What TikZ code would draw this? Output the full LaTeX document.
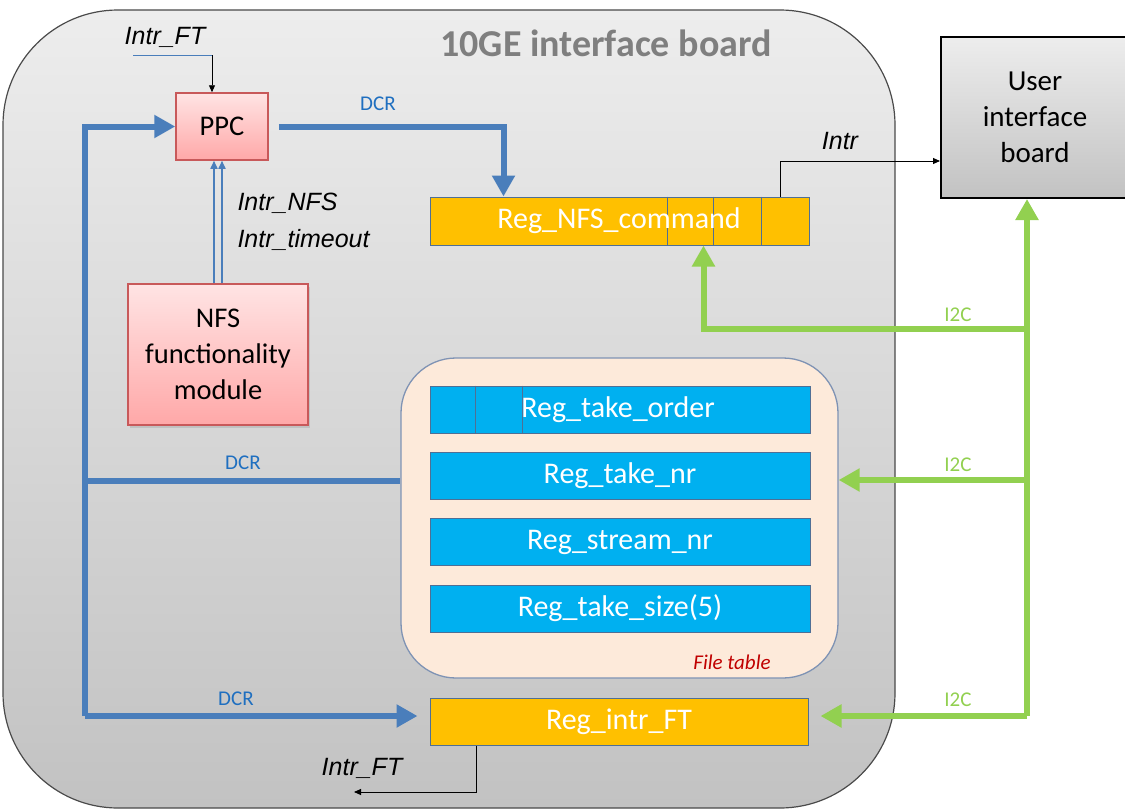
\documentclass[tikz,border=0pt]{standalone}
\usepackage{fontspec}
\setmainfont{Carlito}
\newfontfamily\arialfont{Liberation Sans}
\usetikzlibrary{arrows.meta,calc,shadows}

\definecolor{boardtop}{HTML}{EDEDED}
\definecolor{boardbot}{HTML}{C2C2C2}
\definecolor{boardedge}{HTML}{4A4A4A}
\definecolor{titlegray}{HTML}{7F7F7F}
\definecolor{busblue}{HTML}{4A7EBB}
\definecolor{dcrtext}{HTML}{1F6FC0}
\definecolor{busgreen}{HTML}{92D050}
\definecolor{regorange}{HTML}{FFC000}
\definecolor{regblue}{HTML}{00B0F0}
\definecolor{regedge}{HTML}{4F6F95}
\definecolor{tablefill}{HTML}{FDEADA}
\definecolor{tableedge}{HTML}{7F93B4}
\definecolor{tabletext}{HTML}{C00000}
\definecolor{pinktop}{HTML}{FFE4E4}
\definecolor{pinkbot}{HTML}{FFA8A8}
\definecolor{pinkedge}{HTML}{C8595A}

\begin{document}
\begin{tikzpicture}[x=1pt,y=-1pt,
  board/.style={draw=boardedge, line width=1.2pt, top color=boardtop, bottom color=boardbot,
    rounded corners=115pt, inner sep=0pt},
  pinkbox/.style={draw=pinkedge, line width=1.5pt, top color=pinktop, bottom color=pinkbot,
    inner sep=0pt, align=center, font=\fontsize{28.5}{36}\selectfont},
  regfont/.style={font=\fontsize{30}{32}\selectfont},
  regbox/.style={draw=regedge, line width=1pt, inner sep=0pt, text=white,
    minimum width=380pt, minimum height=47pt, regfont},
  orangereg/.style={regbox, fill=regorange},
  bluereg/.style={regbox, fill=regblue},
  divider/.style={draw=regedge, line width=1pt},
  dcr/.style={draw=busblue, line width=6pt},
  i2c/.style={draw=busgreen, line width=6pt},
  bigtip/.style={-{Triangle[width=22pt,length=21pt]}},
  sig/.style={draw=black, line width=0.9pt, -{Triangle[width=6pt,length=7pt]}},
  nfstip/.style={draw=busblue, line width=1.6pt, -{Triangle[width=7pt,length=8pt]}},
  dcrlabel/.style={text=dcrtext, font=\fontsize{21}{24}\selectfont},
  i2clabel/.style={text=busgreen, font=\fontsize{21}{24}\selectfont},
  siglabel/.style={font=\arialfont\itshape\fontsize{25}{28}\selectfont},
]
\useasboundingbox (0,0) rectangle (1125,811);

% the 10GE interface board
\node[board, minimum width=892pt, minimum height=798pt] (board) at (449,409) {};
\node[text=titlegray, font=\fontsize{38}{42}\selectfont\bfseries] (title) at (606,43) {10GE interface board};

% user interface board (runs past the right edge)
\node[draw=black, line width=2pt, top color=boardtop, bottom color=boardbot, inner sep=0pt,
  minimum width=188pt, minimum height=161pt, align=center,
  font=\fontsize{29}{36}\selectfont] (user) at (1035,117.5) {User\\interface\\board};

% processor and NFS module
\node[pinkbox, minimum width=92pt, minimum height=67pt] (ppc) at (222,126.5) {PPC};
\node[pinkbox, minimum width=180pt, minimum height=141pt,
  drop shadow={opacity=0.25, shadow xshift=2pt, shadow yshift=-3pt}] (nfs) at (218,354.5)
  {NFS\\functionality\\module};

% command register
\node[orangereg, minimum width=379pt, minimum height=48pt] (nfscmd) at (619.5,221) {};
\draw[divider] ($(nfscmd.north west)+(238,0)$) -- ($(nfscmd.south west)+(238,0)$);
\draw[divider] ($(nfscmd.north west)+(284,0)$) -- ($(nfscmd.south west)+(284,0)$);
\draw[divider] ($(nfscmd.north west)+(332,0)$) -- ($(nfscmd.south west)+(332,0)$);
\node[text=white, regfont] (cmdtext) at (619,221) {Reg\_NFS\_command};

% file table
\node[draw=tableedge, line width=1.3pt, fill=tablefill, rounded corners=55pt, inner sep=0pt,
  minimum width=437pt, minimum height=320pt] (ft) at (619.5,518) {};
\node[bluereg] (order) at (620,409.5) {};
\draw[divider] ($(order.north west)+(46,0)$) -- ($(order.south west)+(46,0)$);
\draw[divider] ($(order.north west)+(93,0)$) -- ($(order.south west)+(93,0)$);
\node[text=white, regfont] (ordertext) at (618,409.5) {Reg\_take\_order};
\node[bluereg] (takenr) at (620,475.5) {Reg\_take\_nr};
\node[bluereg] (streamnr) at (620,542) {Reg\_stream\_nr};
\node[bluereg] (takesize) at (620,608.5) {Reg\_take\_size(5)};
\node[text=tabletext, font=\itshape\fontsize{21}{24}\selectfont] (fttitle) at (732,662) {File table};

% interrupt register
\node[orangereg, minimum width=378pt] (intrft) at (619,721.5) {Reg\_intr\_FT};

% DCR bus
\coordinate (dcrbl) at (85,716);
\coordinate (dcrmid) at (85,481);
\draw[dcr, bigtip, line join=miter] (dcrbl) |- (ppc.west);
\draw[dcr, bigtip, shorten >=12pt] (dcrbl) -- (dcrbl -| intrft.west);
\draw[dcr] (dcrmid) -- (dcrmid -| ft.west);
\draw[dcr, bigtip, shorten <=10pt, line join=miter] (ppc.east) -| ($(nfscmd.north west)+(74,0)$);
\node[dcrlabel] (dcr1) at (378,104) {DCR};
\node[dcrlabel] (dcr2) at (243,463) {DCR};
\node[dcrlabel] (dcr3) at (236,699) {DCR};

% I2C bus
\coordinate (i2cbot) at (1027,716);
\coordinate (i2ccmd) at (1027,329);
\coordinate (i2cft) at (1027,480);
\draw[i2c, bigtip] (i2cbot) -- (i2cbot |- user.south);
\draw[i2c, bigtip, line join=miter] (i2ccmd) -| ($(nfscmd.south west)+(274,0)$);
\draw[i2c, bigtip] (i2cft) -- (i2cft -| ft.east);
\draw[i2c, bigtip, shorten >=12pt] (i2cbot) -- (i2cbot -| intrft.east);
\node[i2clabel] (i2c1) at (958,315) {I2C};
\node[i2clabel] (i2c2) at (958,465) {I2C};
\node[i2clabel] (i2c3) at (958,700) {I2C};

% interrupts from the NFS module
\coordinate (nfsa) at ($(nfs.north)+(-4,0)$);
\coordinate (nfsb) at ($(nfs.north)+(4,0)$);
\draw[nfstip] (nfsa) -- (nfsa |- ppc.south);
\draw[nfstip] (nfsb) -- (nfsb |- ppc.south);
\node[siglabel, anchor=west] (lnfs) at (234,203) {Intr\_NFS};
\node[siglabel, anchor=west] (ltmo) at (234,240) {Intr\_timeout};

% Intr_FT into the PPC
\coordinate (ftinl) at (133,55);
\coordinate (ftinr) at (212,55);
\draw[draw=busblue, line width=1pt] (ftinl) -- (ftinr);
\draw[sig] (ftinr) -- (ftinr |- ppc.north);
\node[siglabel] (lftin) at (165,37) {Intr\_FT};

% Intr to the user interface board
\draw[sig] ($(nfscmd.north west)+(351,0)$) |- ($(user.south west)+(0,-38)$);
\node[siglabel] (lintr) at (840,141) {Intr};

% Intr_FT out of the interrupt register
\coordinate (ftout) at (354,792);
\draw[sig] ($(intrft.south west)+(47,0)$) |- (ftout);
\node[siglabel] (lftout) at (362,768) {Intr\_FT};
\end{tikzpicture}
\end{document}
